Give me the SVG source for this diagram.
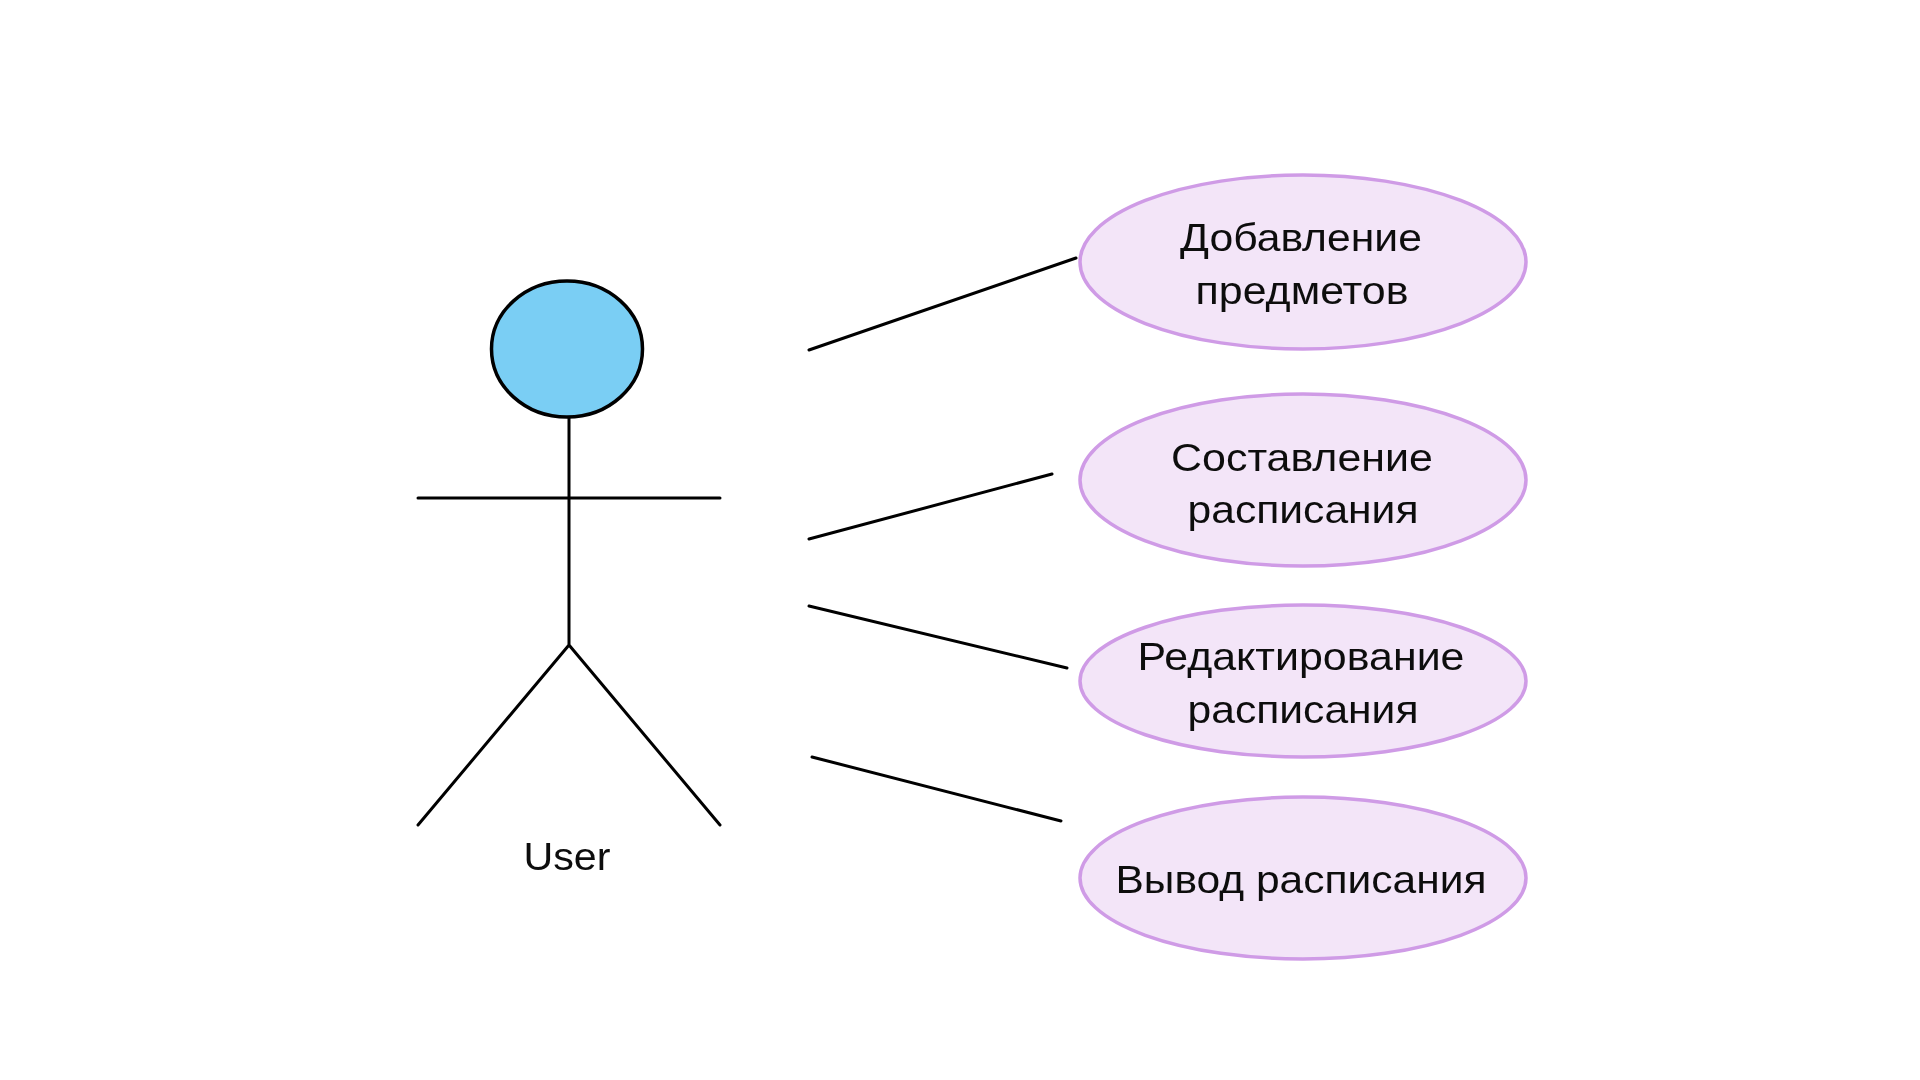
<svg xmlns="http://www.w3.org/2000/svg" width="1920" height="1080" viewBox="0 0 1920 1080">
<style>
.s{stroke:#000;stroke-width:3;fill:none;stroke-linecap:round}
.u{fill:#f3e5f8;stroke:#cf9be6;stroke-width:3.5}
.t{font-family:"Liberation Sans",Arial,sans-serif;font-size:39px;fill:#111;text-anchor:middle}
.b{filter:url(#soft)}
</style>
<defs><filter id="soft" x="-5%" y="-5%" width="110%" height="110%"><feGaussianBlur stdDeviation="0.5"/></filter></defs>
<rect width="1920" height="1080" fill="#fff"/>
<g id="actor" class="b">
<ellipse cx="567" cy="349" rx="75.500" ry="68" fill="#7acef4" stroke="#000" stroke-width="3.500"/>
<path class="s" d="M569 418V645M418 498H720M569 645L418 825M569 645L720 825"/>
<text class="t" x="567" y="870" textLength="87" lengthAdjust="spacingAndGlyphs">User</text>
</g>
<g id="connectors" class="b">
<path class="s" d="M809 350L1076 258"/>
<path class="s" d="M809 539L1052 474"/>
<path class="s" d="M809 606L1067 668"/>
<path class="s" d="M812 757L1061 821"/>
</g>
<g id="uc1" class="b"><ellipse class="u" cx="1303" cy="262" rx="223" ry="87"/><text class="t" x="1301" y="251" textLength="242" lengthAdjust="spacingAndGlyphs">Добавление</text><text class="t" x="1302" y="304" textLength="213" lengthAdjust="spacingAndGlyphs">предметов</text></g>
<g id="uc2" class="b"><ellipse class="u" cx="1303" cy="480" rx="223" ry="86"/><text class="t" x="1302" y="471" textLength="262" lengthAdjust="spacingAndGlyphs">Составление</text><text class="t" x="1303" y="523" textLength="231" lengthAdjust="spacingAndGlyphs">расписания</text></g>
<g id="uc3" class="b"><ellipse class="u" cx="1303" cy="681" rx="223" ry="76"/><text class="t" x="1301" y="670" textLength="327" lengthAdjust="spacingAndGlyphs">Редактирование</text><text class="t" x="1303" y="723" textLength="231" lengthAdjust="spacingAndGlyphs">расписания</text></g>
<g id="uc4" class="b"><ellipse class="u" cx="1303" cy="878" rx="223" ry="81"/><text class="t" x="1301" y="893" textLength="371" lengthAdjust="spacingAndGlyphs">Вывод расписания</text></g>
</svg>
